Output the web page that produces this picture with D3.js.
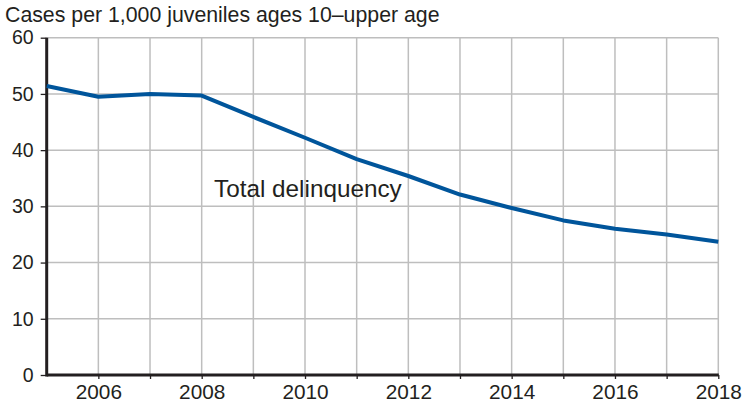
<!DOCTYPE html>
<html>
<head>
<meta charset="utf-8">
<script src="https://d3js.org/d3.v7.min.js"></script>
<style>
body { margin:0; background:#fff; }
svg text { font-family: "Liberation Sans", Arial, Helvetica, sans-serif; fill:#231f20; }
</style>
</head>
<body>
<div id="chart"></div>
<script>
// data
var years = [2005, 2006, 2007, 2008, 2009, 2010, 2011, 2012, 2013, 2014, 2015, 2016, 2017, 2018];
var totalDelinquency = [51.4, 49.5, 50.0, 49.7, 45.9, 42.2, 38.4, 35.4, 32.1, 29.7, 27.5, 26.0, 25.0, 23.7];
var yTicks = [0, 10, 20, 30, 40, 50, 60];
var xLabelYears = [2006, 2008, 2010, 2012, 2014, 2016, 2018];
var yTitle = "Cases per 1,000 juveniles ages 10\u2013upper age";
var seriesName = "Total delinquency";

var W = 755, H = 404;
var margin = {top:37.7, right:36.7, bottom:29, left:46.7};

var svg = d3.select("#chart").append("svg")
    .attr("width", W)
    .attr("height", H);

var x = d3.scaleLinear().domain([2005, 2018]).range([margin.left, W - margin.right]);
var y = d3.scaleLinear().domain([0, 60]).range([H - margin.bottom, margin.top]);

// grid
var grid = svg.append("g").attr("class", "grid");
grid.selectAll(".vgrid").data(years.slice(1))
    .enter().append("line")
    .attr("x1", function(d){ return x(d); })
    .attr("x2", function(d){ return x(d); })
    .attr("y1", y(0))
    .attr("y2", y(60))
    .attr("stroke", "#bebebe")
    .attr("stroke-width", 1.5);
grid.selectAll(".hgrid").data(yTicks.slice(1))
    .enter().append("line")
    .attr("x1", x(2005))
    .attr("x2", x(2018))
    .attr("y1", function(d){ return y(d); })
    .attr("y2", function(d){ return y(d); })
    .attr("stroke", "#bebebe")
    .attr("stroke-width", 1.5);

// y axis
var yAxis = svg.append("g")
    .attr("transform", "translate(" + x(2005) + ",0)")
    .call(d3.axisLeft(y).tickValues(yTicks).tickSize(6).tickPadding(7));
yAxis.select(".domain").remove();
yAxis.selectAll(".tick line").attr("stroke", "#231f20").attr("stroke-width", 1.3);
yAxis.selectAll(".tick text")
    .style("font-size", "19.5px")
    .attr("fill", "#231f20")
    .style("font-family", "Liberation Sans, Arial, sans-serif");

// x axis
var xAxis = svg.append("g")
    .attr("transform", "translate(0," + y(0) + ")")
    .call(d3.axisBottom(x).tickValues(years.slice(1)).tickSize(4).tickPadding(5).tickFormat(function(d){
        return xLabelYears.indexOf(d) >= 0 ? d : "";
    }));
xAxis.select(".domain").remove();
xAxis.selectAll(".tick line").attr("stroke", "#231f20").attr("stroke-width", 1.3);
xAxis.selectAll(".tick text")
    .style("font-size", "20.8px")
    .attr("fill", "#231f20")
    .style("font-family", "Liberation Sans, Arial, sans-serif");

// axis lines
svg.append("line")
    .attr("x1", x(2005)).attr("x2", x(2005))
    .attr("y1", y(0) + 1.5).attr("y2", y(60))
    .attr("stroke", "#231f20").attr("stroke-width", 3);
svg.append("line")
    .attr("x1", x(2005)).attr("x2", x(2018) + 0.5)
    .attr("y1", y(0)).attr("y2", y(0))
    .attr("stroke", "#231f20").attr("stroke-width", 3);

// series line
var line = d3.line()
    .x(function(d, i){ return x(years[i]); })
    .y(function(d){ return y(d); });

svg.append("path")
    .datum(totalDelinquency)
    .attr("fill", "none")
    .attr("stroke", "#00559b")
    .attr("stroke-width", 4)
    .attr("stroke-linejoin", "round")
    .attr("d", line);

// series label
svg.append("text")
    .attr("x", 214)
    .attr("y", 197)
    .style("font-size", "24.3px")
    .text(seriesName);

// title
svg.append("text")
    .attr("x", 5)
    .attr("y", 22)
    .style("font-size", "21.3px")
    .text(yTitle);
</script>
</body>
</html>
